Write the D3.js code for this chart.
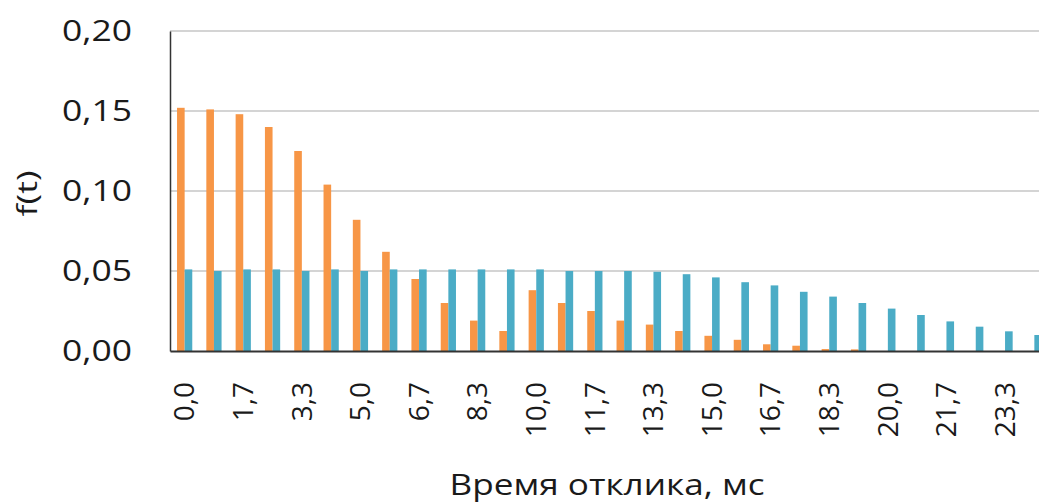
<!DOCTYPE html>
<html>
<head>
<meta charset="utf-8">
<script src="https://cdn.jsdelivr.net/npm/d3@7"></script>
<style>
  html, body { margin: 0; padding: 0; background: #fff; }
  svg { display: block; font-family: "Open Sans", sans-serif; }
</style>
</head>
<body>
<div id="chart"></div>
<script>
// categories (response time, ms) - every other one is labelled
var categories = ["0,0", "0,8", "1,7", "2,5", "3,3", "4,2", "5,0", "5,8", "6,7", "7,5",
    "8,3", "9,2", "10,0", "10,8", "11,7", "12,5", "13,3", "14,2", "15,0", "15,8",
    "16,7", "17,5", "18,3", "19,2", "20,0", "20,8", "21,7", "22,5", "23,3", "24,2"];

var seriesNames = ["s1", "s2"];

var orangeValues = [0.152, 0.151, 0.148, 0.140, 0.125, 0.104, 0.082, 0.062, 0.045, 0.030,
    0.019, 0.0125, 0.038, 0.030, 0.025, 0.019, 0.0165, 0.0125, 0.0095, 0.007,
    0.0042, 0.0033, 0.0012, 0.001, 0, 0, 0, 0, 0, 0];

var blueValues = [0.051, 0.050, 0.051, 0.051, 0.050, 0.051, 0.050, 0.051, 0.051, 0.051,
    0.051, 0.051, 0.051, 0.050, 0.050, 0.050, 0.0495, 0.048, 0.046, 0.043,
    0.041, 0.037, 0.034, 0.030, 0.0265, 0.0225, 0.0185, 0.0152, 0.0123, 0.010];

var yTicks = [0, 0.05, 0.10, 0.15, 0.20];

var svgWidth = 1039;
var svgHeight = 504;

var margin = { top: 31, left: 170 };
var height = 320;
var width = 879;   // plot runs past the right edge, picture is cropped there

var svg = d3.select("#chart")
    .append("svg")
    .attr("width", svgWidth)
    .attr("height", svgHeight);

var chartGroup = svg.append("g")
    .attr("transform", `translate(${margin.left}, ${margin.top})`);

var x0 = d3.scaleBand()
    .domain(categories)
    .range([0, width])
    .paddingInner(0.48)
    .paddingOuter(0.24);

var x1 = d3.scaleBand()
    .domain(seriesNames)
    .range([0, x0.bandwidth()]);

var y = d3.scaleLinear()
    .domain([0, 0.20])
    .range([height, 0]);

var fmt = d => d3.format(".2f")(d).replace(".", ",");

// gridlines
chartGroup.append("g")
    .selectAll("line")
    .data(yTicks.filter(d => d > 0))
    .enter()
    .append("line")
    .attr("x1", 0)
    .attr("x2", svgWidth)
    .attr("y1", d => y(d))
    .attr("y2", d => y(d))
    .attr("stroke", "#c6c6c6")
    .attr("stroke-width", 1.5);

// bars
var data = categories.map((c, i) => ({ cat: c, s1: orangeValues[i], s2: blueValues[i] }));
var colors = { s1: "#f79646", s2: "#4bacc6" };

var groups = chartGroup.selectAll(".grp")
    .data(data)
    .enter()
    .append("g")
    .attr("transform", d => `translate(${x0(d.cat)}, 0)`);

groups.selectAll("rect")
    .data(d => seriesNames.map(k => ({ key: k, value: d[k] })))
    .enter()
    .append("rect")
    .attr("x", d => x1(d.key))
    .attr("width", x1.bandwidth())
    .attr("y", d => y(d.value))
    .attr("height", d => height - y(d.value))
    .attr("fill", d => colors[d.key]);

// y axis
var yAxis = d3.axisLeft(y)
    .tickValues(yTicks)
    .tickFormat(fmt)
    .tickSize(0)
    .tickPadding(38);

var yAxisG = chartGroup.append("g").call(yAxis);
yAxisG.select(".domain").attr("stroke", "#333").attr("stroke-width", 1.5);
yAxisG.selectAll("text")
    .attr("font-size", "30px")
    .attr("font-family", "Open Sans")
    .attr("fill", "#1a1a1a")
    .attr("textLength", 70)
    .attr("lengthAdjust", "spacingAndGlyphs");

// x axis
var xAxis = d3.axisBottom(x0)
    .tickValues(categories.filter((d, i) => i % 2 === 0))
    .tickSize(0)
    .tickSizeOuter(0);

var xAxisG = chartGroup.append("g")
    .attr("transform", `translate(0, ${height})`)
    .call(xAxis);
xAxisG.select(".domain").attr("stroke", "#333").attr("stroke-width", 2);
xAxisG.selectAll("text")
    .attr("font-size", "28px")
    .attr("font-family", "Open Sans")
    .attr("fill", "#1a1a1a")
    .attr("transform", "rotate(-90)")
    .attr("text-anchor", "end")
    .attr("x", -31)
    .attr("y", 0)
    .attr("dy", "0.35em");

// axis titles
svg.append("text")
    .attr("transform", "translate(37, 193.5) rotate(-90)")
    .attr("text-anchor", "middle")
    .attr("font-size", "28px")
    .attr("fill", "#1a1a1a")
    .attr("textLength", 46)
    .attr("lengthAdjust", "spacingAndGlyphs")
    .text("f(t)");

svg.append("text")
    .attr("x", 607)
    .attr("y", 495)
    .attr("text-anchor", "middle")
    .attr("font-size", "30px")
    .attr("fill", "#1a1a1a")
    .attr("textLength", 315)
    .attr("lengthAdjust", "spacingAndGlyphs")
    .text("Время отклика, мс");
</script>
</body>
</html>
